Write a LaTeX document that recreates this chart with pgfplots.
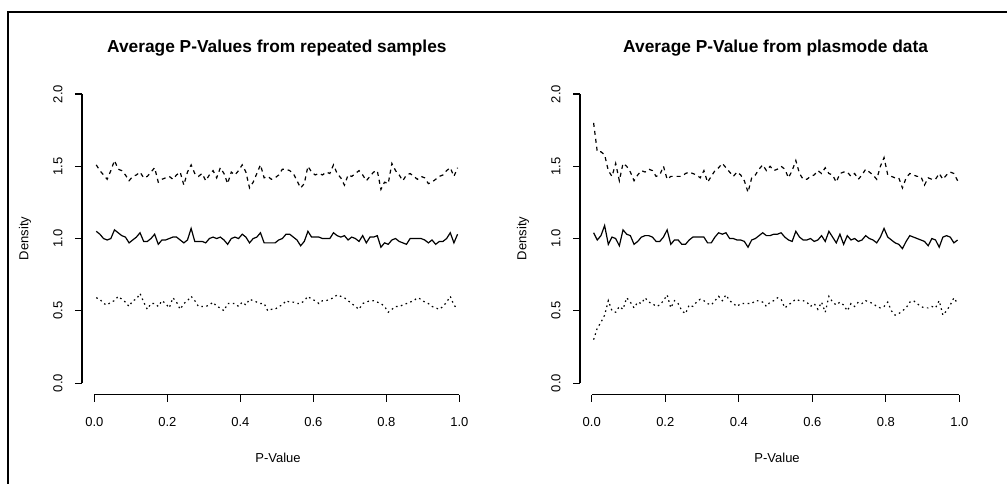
\documentclass[border=0pt]{standalone}
\usepackage{pgfplots}
\usepackage{pgfplotstable}
\pgfplotsset{compat=1.18}
\usepackage{fontspec}
\setmainfont{Liberation Sans}

\pgfplotstableread{
x a b c
0.005 1.51 1.05 0.59
0.015 1.47 1.03 0.58
0.025 1.44 1.00 0.55
0.035 1.41 0.99 0.54
0.045 1.47 1.00 0.56
0.055 1.54 1.06 0.57
0.065 1.48 1.04 0.60
0.075 1.47 1.02 0.58
0.085 1.44 1.01 0.56
0.095 1.40 0.97 0.53
0.105 1.43 0.99 0.57
0.115 1.44 1.01 0.58
0.125 1.46 1.04 0.62
0.135 1.42 0.98 0.56
0.145 1.43 0.98 0.51
0.155 1.46 1.00 0.55
0.165 1.49 1.03 0.55
0.175 1.39 0.96 0.53
0.185 1.41 0.99 0.57
0.195 1.42 0.99 0.55
0.205 1.43 1.00 0.52
0.215 1.41 1.01 0.59
0.225 1.44 1.01 0.56
0.235 1.46 0.99 0.51
0.245 1.37 0.97 0.55
0.255 1.46 0.99 0.57
0.265 1.51 1.07 0.60
0.275 1.45 0.98 0.57
0.285 1.43 0.98 0.53
0.295 1.45 0.98 0.53
0.305 1.40 0.97 0.53
0.315 1.44 1.00 0.54
0.325 1.47 1.01 0.56
0.335 1.42 1.00 0.53
0.345 1.49 1.01 0.52
0.355 1.45 0.99 0.50
0.365 1.38 0.96 0.55
0.375 1.46 1.00 0.55
0.385 1.44 1.01 0.55
0.395 1.47 1.00 0.53
0.405 1.51 1.03 0.56
0.415 1.46 1.01 0.54
0.425 1.35 0.97 0.58
0.435 1.39 1.00 0.57
0.445 1.45 1.01 0.56
0.455 1.51 1.04 0.55
0.465 1.42 0.97 0.55
0.475 1.43 0.97 0.50
0.485 1.41 0.97 0.51
0.495 1.42 0.97 0.51
0.505 1.44 0.99 0.53
0.515 1.48 1.00 0.54
0.525 1.48 1.03 0.57
0.535 1.47 1.03 0.56
0.545 1.45 1.01 0.56
0.555 1.40 0.99 0.55
0.565 1.35 0.95 0.55
0.575 1.38 0.98 0.57
0.585 1.50 1.05 0.60
0.595 1.46 1.01 0.58
0.605 1.44 1.01 0.57
0.615 1.45 1.01 0.55
0.625 1.44 1.00 0.57
0.635 1.46 1.00 0.57
0.645 1.45 1.00 0.58
0.655 1.51 1.04 0.59
0.665 1.45 1.02 0.61
0.675 1.42 1.01 0.60
0.685 1.37 1.02 0.59
0.695 1.44 0.99 0.57
0.705 1.43 1.01 0.55
0.715 1.45 1.00 0.53
0.725 1.47 0.98 0.51
0.735 1.44 1.02 0.55
0.745 1.40 0.97 0.56
0.755 1.43 1.01 0.57
0.765 1.46 1.01 0.57
0.775 1.47 1.02 0.56
0.785 1.34 0.94 0.55
0.795 1.39 0.97 0.53
0.805 1.38 0.96 0.49
0.815 1.52 0.99 0.51
0.825 1.47 1.00 0.53
0.835 1.44 0.98 0.53
0.845 1.40 0.97 0.54
0.855 1.44 0.96 0.55
0.865 1.45 1.00 0.56
0.875 1.43 1.00 0.57
0.885 1.41 1.00 0.59
0.895 1.43 1.00 0.58
0.905 1.42 0.99 0.56
0.915 1.38 0.97 0.55
0.925 1.39 0.99 0.53
0.935 1.41 0.96 0.52
0.945 1.43 0.98 0.51
0.955 1.44 0.98 0.53
0.965 1.47 1.00 0.56
0.975 1.49 1.04 0.60
0.985 1.43 0.97 0.54
0.995 1.49 1.03 0.51
}\leftdata

\pgfplotstableread{
x a b c
0.005 1.80 1.04 0.30
0.015 1.60 0.99 0.38
0.025 1.60 1.02 0.42
0.035 1.58 1.09 0.47
0.045 1.47 0.96 0.57
0.055 1.43 1.01 0.50
0.065 1.52 1.00 0.49
0.075 1.40 0.95 0.53
0.085 1.52 1.06 0.51
0.095 1.50 1.03 0.59
0.105 1.46 1.02 0.56
0.115 1.40 0.96 0.52
0.125 1.44 0.98 0.56
0.135 1.47 1.01 0.55
0.145 1.46 1.02 0.59
0.155 1.48 1.02 0.56
0.165 1.47 1.01 0.55
0.175 1.43 0.98 0.53
0.185 1.44 0.98 0.54
0.195 1.50 1.01 0.57
0.205 1.41 1.06 0.61
0.215 1.43 0.96 0.52
0.225 1.43 0.99 0.57
0.235 1.43 0.99 0.55
0.245 1.43 0.96 0.50
0.255 1.45 0.96 0.48
0.265 1.46 0.99 0.54
0.275 1.45 1.01 0.53
0.285 1.44 1.01 0.56
0.295 1.42 1.01 0.58
0.305 1.47 1.01 0.57
0.315 1.39 0.97 0.55
0.325 1.43 0.97 0.54
0.335 1.47 1.01 0.57
0.345 1.49 1.04 0.60
0.355 1.52 1.03 0.57
0.365 1.49 1.04 0.61
0.375 1.46 1.00 0.57
0.385 1.43 1.00 0.55
0.395 1.46 0.99 0.53
0.405 1.44 0.99 0.55
0.415 1.40 0.98 0.55
0.425 1.32 0.94 0.55
0.435 1.42 0.99 0.55
0.445 1.44 1.00 0.57
0.455 1.48 1.02 0.57
0.465 1.51 1.04 0.56
0.475 1.47 1.02 0.53
0.485 1.50 1.02 0.56
0.495 1.47 1.03 0.57
0.505 1.48 1.03 0.59
0.515 1.50 1.04 0.58
0.525 1.48 1.01 0.52
0.535 1.42 0.99 0.54
0.545 1.47 0.98 0.56
0.555 1.54 1.05 0.58
0.565 1.45 1.01 0.57
0.575 1.41 0.99 0.57
0.585 1.41 0.99 0.56
0.595 1.43 1.00 0.53
0.605 1.44 0.98 0.55
0.615 1.47 0.99 0.51
0.625 1.45 1.02 0.56
0.635 1.49 0.98 0.49
0.645 1.45 1.05 0.60
0.655 1.44 1.01 0.56
0.665 1.39 0.97 0.54
0.675 1.45 1.03 0.56
0.685 1.46 0.96 0.54
0.695 1.46 1.02 0.50
0.705 1.43 0.99 0.55
0.715 1.45 1.00 0.53
0.725 1.41 0.98 0.56
0.735 1.44 0.99 0.55
0.745 1.48 1.02 0.57
0.755 1.46 1.00 0.56
0.765 1.44 0.99 0.55
0.775 1.41 0.97 0.53
0.785 1.50 1.01 0.52
0.795 1.56 1.07 0.53
0.805 1.44 1.01 0.56
0.815 1.43 0.99 0.50
0.825 1.42 0.97 0.47
0.835 1.42 0.96 0.48
0.845 1.35 0.93 0.50
0.855 1.42 0.98 0.52
0.865 1.45 1.02 0.56
0.875 1.44 1.01 0.57
0.885 1.43 1.00 0.55
0.895 1.43 0.99 0.53
0.905 1.37 0.98 0.52
0.915 1.42 0.95 0.52
0.925 1.41 1.00 0.53
0.935 1.41 0.99 0.52
0.945 1.45 0.94 0.57
0.955 1.41 1.01 0.47
0.965 1.44 1.02 0.50
0.975 1.46 1.01 0.54
0.985 1.45 0.97 0.59
0.995 1.40 0.99 0.55
}\rightdata

\pgfplotsset{
  rstyle/.style={
    scale only axis,
    anchor=south west,
    height=234.1pt,
    ymin=-0.08, ymax=2.08,
    xmax=1.04,
    clip=false,
    axis x line*=bottom,
    axis y line*=left,
    axis line style={draw=none},
    tick align=outside,
    major tick length=5.25pt,
    tick style={black, line width=0.8pt},
    xtick={0,0.2,0.4,0.6,0.8,1.0},
    ytick={0,0.5,1.0,1.5,2.0},
    /pgf/number format/assume math mode=true,
    /pgf/number format/.cd, fixed, fixed zerofill, precision=1, /pgfplots/.cd,
    tick label style={font=\fontsize{9.75}{10}\selectfont},
    xticklabel style={anchor=center, yshift=-15pt},
    yticklabel style={rotate=90, anchor=center, yshift=12.75pt},
    label style={font=\fontsize{9.75}{10}\selectfont},
    xlabel style={at={(axis description cs:0.5,0)}, anchor=center, yshift=-47.25pt},
    ylabel style={at={(axis description cs:0,0.5)}, anchor=center, yshift=42.75pt},
    title style={font=\fontsize{13}{14}\selectfont\bfseries, anchor=center},
    xlabel={P-Value},
    ylabel={Density},
  },
  s1/.style={black, line width=0.9pt, dash pattern=on 3pt off 3pt},
  s2/.style={black, line width=0.9pt, solid},
  s3/.style={black, line width=0.9pt, dash pattern=on 1.2pt off 2.6pt},
}

\begin{document}
\begin{tikzpicture}
\useasboundingbox (0pt,0pt) rectangle (755.25pt,362.25pt);
\draw[line width=1.5pt] (6pt,-5pt) -- (6pt,353.25pt) -- (760pt,353.25pt);

\begin{axis}[rstyle, at={(61.5pt,66.3pt)}, width=294.0pt, xmin=-0.034,
  title={Average P-Values from repeated samples},
  title style={at={(axis cs:0.5,2.08)}, yshift=19.8pt}]
\addplot[s1] table[x=x, y=a] {\leftdata};
\addplot[s2] table[x=x, y=b] {\leftdata};
\addplot[s3] table[x=x, y=c] {\leftdata};
\draw[line width=0.8pt] (axis cs:0,-0.08) -- (axis cs:1,-0.08);
\draw[line width=0.8pt] (axis cs:-0.034,0) -- (axis cs:-0.034,2);
\end{axis}

\begin{axis}[rstyle, at={(435pt,66.3pt)}, width=295.6pt, xmin=-0.032,
  title={Average P-Value from plasmode data},
  title style={at={(axis cs:0.5,2.08)}, yshift=19.8pt}]
\addplot[s1] table[x=x, y=a] {\rightdata};
\addplot[s2] table[x=x, y=b] {\rightdata};
\addplot[s3] table[x=x, y=c] {\rightdata};
\draw[line width=0.8pt] (axis cs:0,-0.08) -- (axis cs:1,-0.08);
\draw[line width=0.8pt] (axis cs:-0.032,0) -- (axis cs:-0.032,2);
\end{axis}
\end{tikzpicture}
\end{document}
